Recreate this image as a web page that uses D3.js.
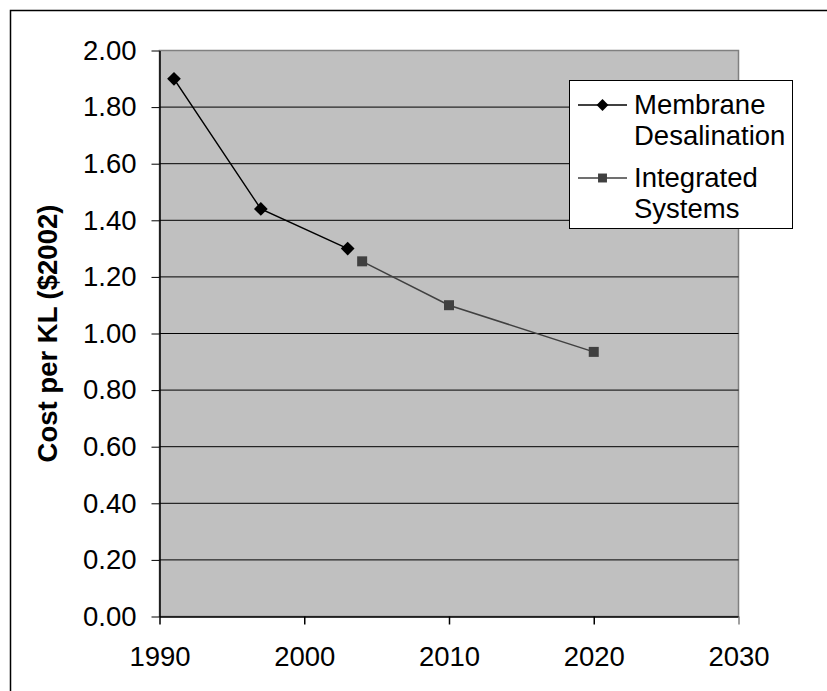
<!DOCTYPE html>
<html><head><meta charset="utf-8">
<script src="https://cdn.jsdelivr.net/npm/d3@7"></script>
<style>body{margin:0;background:#fff}svg{display:block}text{font-family:Arial,"Liberation Sans",sans-serif}</style>
</head><body><svg id="c" width="827" height="691"></svg>
<script>
const membraneYears = [1991, 1997, 2003];
const membraneCost = [1.90, 1.44, 1.30];
const integratedYears = [2004, 2010, 2020];
const integratedCost = [1.255, 1.10, 0.935];
const xTicks = [1990, 2000, 2010, 2020, 2030];
const yTicks = [0, 0.2, 0.4, 0.6, 0.8, 1.0, 1.2, 1.4, 1.6, 1.8, 2.0];
const seriesNames = ["Membrane", "Integrated"];
const yTitle = "Cost per KL ($2002)";

const svg = d3.select("#c");
const L = 159.5, R = 738.5, T = 50.5, B = 616.5;
const x = d3.scaleLinear().domain([1990, 2030]).range([L, R]);
const y = d3.scaleLinear().domain([0, 2]).range([B, T]);
const FS = 27.5;

// outer frame
svg.append("rect").attr("x", 10.5).attr("y", 10.5).attr("width", 840).attr("height", 700)
  .attr("fill", "none").attr("stroke", "#000").attr("stroke-width", 1.5);

// plot area
svg.append("rect").attr("x", L).attr("y", T).attr("width", R - L).attr("height", B - T)
  .attr("fill", "#c0c0c0").attr("stroke", "#808080").attr("stroke-width", 1.5);

// gridlines
svg.append("g").selectAll("line").data(yTicks.slice(1, -1)).join("line")
  .attr("x1", L).attr("x2", R).attr("y1", d => y(d)).attr("y2", d => y(d))
  .attr("stroke", "#000").attr("stroke-width", 1);

// y axis
const yAxis = d3.axisLeft(y).tickValues(yTicks).tickFormat(d3.format(".2f")).tickSizeInner(8).tickSizeOuter(0).tickPadding(15);
const gy = svg.append("g").attr("transform", `translate(${L},0)`).call(yAxis);
gy.select(".domain").attr("stroke", "#000").attr("stroke-width", 1.5);
gy.selectAll(".tick line").attr("stroke", "#000").attr("stroke-width", 1);
gy.selectAll("text").attr("font-size", FS).attr("fill", "#000").attr("font-family", "Arial, 'Liberation Sans', sans-serif");

// x axis
const xAxis = d3.axisBottom(x).tickValues(xTicks).tickFormat(d3.format("d")).tickSizeInner(8).tickSizeOuter(0).tickPadding(22);
const gx = svg.append("g").attr("transform", `translate(0,${B})`).call(xAxis);
gx.select(".domain").attr("stroke", "#000").attr("stroke-width", 1.5);
gx.selectAll(".tick line").attr("stroke", (d) => d === 2030 ? "#808080" : "#000").attr("stroke-width", 1.5);
gx.selectAll("text").attr("font-size", FS).attr("fill", "#000").attr("font-family", "Arial, 'Liberation Sans', sans-serif");

// y title
svg.append("text").attr("transform", `translate(57,${(T + B) / 2}) rotate(-90)`)
  .attr("text-anchor", "middle").attr("font-size", FS).attr("font-weight", "bold").text(yTitle);

const line = d3.line().x(d => x(d[0])).y(d => y(d[1]));
const mData = membraneYears.map((v, i) => [v, membraneCost[i]]);
const iData = integratedYears.map((v, i) => [v, integratedCost[i]]);
const square = d3.symbol().type(d3.symbolSquare).size(100);

svg.append("path").datum(mData).attr("d", line).attr("fill", "none").attr("stroke", "#000").attr("stroke-width", 1.5);
svg.append("g").selectAll("path").data(mData).join("path")
  .attr("d", d3.symbol().type(d3.symbolDiamond2).size(120)).attr("transform", d => `translate(${x(d[0])},${y(d[1])})`).attr("fill", "#000");

svg.append("path").datum(iData).attr("d", line).attr("fill", "none").attr("stroke", "#404040").attr("stroke-width", 1.5);
svg.append("g").selectAll("path").data(iData).join("path")
  .attr("d", square).attr("transform", d => `translate(${x(d[0])},${y(d[1])})`).attr("fill", "#404040");

// legend
const lg = svg.append("g");
lg.append("rect").attr("x", 569.5).attr("y", 80.5).attr("width", 223).attr("height", 148)
  .attr("fill", "#fff").attr("stroke", "#000").attr("stroke-width", 1);
const legendItems = [
  {lines: ["Membrane", "Desalination"], color: "#000", sym: d3.symbol().type(d3.symbolDiamond2).size(90), y: 105},
  {lines: ["Integrated", "Systems"], color: "#404040", sym: d3.symbol().type(d3.symbolSquare).size(80), y: 178}
];
legendItems.forEach(it => {
  lg.append("line").attr("x1", 578).attr("x2", 627).attr("y1", it.y).attr("y2", it.y).attr("stroke", it.color).attr("stroke-width", 1.5);
  lg.append("path").attr("d", it.sym).attr("transform", `translate(602.5,${it.y})`).attr("fill", it.color);
  it.lines.forEach((t, k) => {
    lg.append("text").attr("x", 634).attr("y", it.y + 9 + k * 31).attr("font-size", FS).attr("fill", "#000").text(t);
  });
});
</script></body></html>
